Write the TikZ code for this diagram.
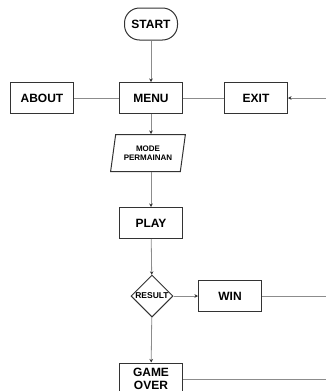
\documentclass[tikz,border=0pt]{standalone}
\usepackage{fontspec}
\setmainfont{Liberation Sans}
\usetikzlibrary{shapes.geometric, arrows.meta}

\tikzset{
    box/.style={draw=black!80, line width=1pt, minimum width=63pt, minimum height=31pt,
        inner sep=2pt, font=\bfseries\fontsize{12}{13.5}\selectfont, align=center},
    terminal/.style={box, rounded corners=15pt, minimum width=53pt, minimum height=32pt},
    io/.style={trapezium, trapezium left angle=77, trapezium right angle=103, trapezium stretches=true,
        draw=black!80, line width=1pt, minimum width=75pt, minimum height=37pt, inner sep=1pt,
        font=\bfseries\fontsize{8}{9.5}\selectfont, align=center},
    decision/.style={diamond, draw=black!80, line width=1pt, minimum size=42pt, inner sep=0pt,
        font=\bfseries\fontsize{8.5}{9}\selectfont},
    flow/.style={draw=black!45, line width=0.8pt},
    flowarrow/.style={flow, -{Stealth[length=3.5pt, width=3.5pt, black!80]}}
}

\begin{document}
\begin{tikzpicture}[x=1pt, y=-1pt]
    \useasboundingbox (0,0) rectangle (326,391);

    % Start and menu row
    \node[terminal] (start) at (151,24) {START};
    \node[box] (menu) at (151,98) {MENU};
    \node[box] (about) at (42,98) {ABOUT};
    \node[box] (exit) at (256,98) {EXIT};
    \coordinate (exitin) at (326,98);

    % Game flow
    \node[io] (mode) at (148,153) {MODE\\PERMAINAN};
    \node[box] (play) at (151,223) {PLAY};
    \node[decision] (result) at (152,296) {RESULT};
    \node[box] (win) at (230,296) {WIN};
    \node[box, minimum height=32pt] (gameover) at (151,379) {GAME\\OVER};
    \coordinate (winout) at (326,296);
    \coordinate (overout) at (326,379);

    % Connectors
    \draw[flowarrow] (start) -- (menu);
    \draw[flow] (menu) -- (about);
    \draw[flow] (menu) -- (exit);
    \draw[flowarrow] (exitin) -- (exit);
    \draw[flowarrow] (menu.south) -- (menu.south |- mode.north);
    \draw[flowarrow] (menu.south |- mode.south) -- (play.north);
    \draw[flowarrow] (play) -- (result);
    \draw[flowarrow] (result) -- (win);
    \draw[flowarrow] (result) -- (gameover);
    \draw[flow] (win) -- (winout);
    \draw[flow] (gameover) -- (overout);

\end{tikzpicture}
\end{document}
